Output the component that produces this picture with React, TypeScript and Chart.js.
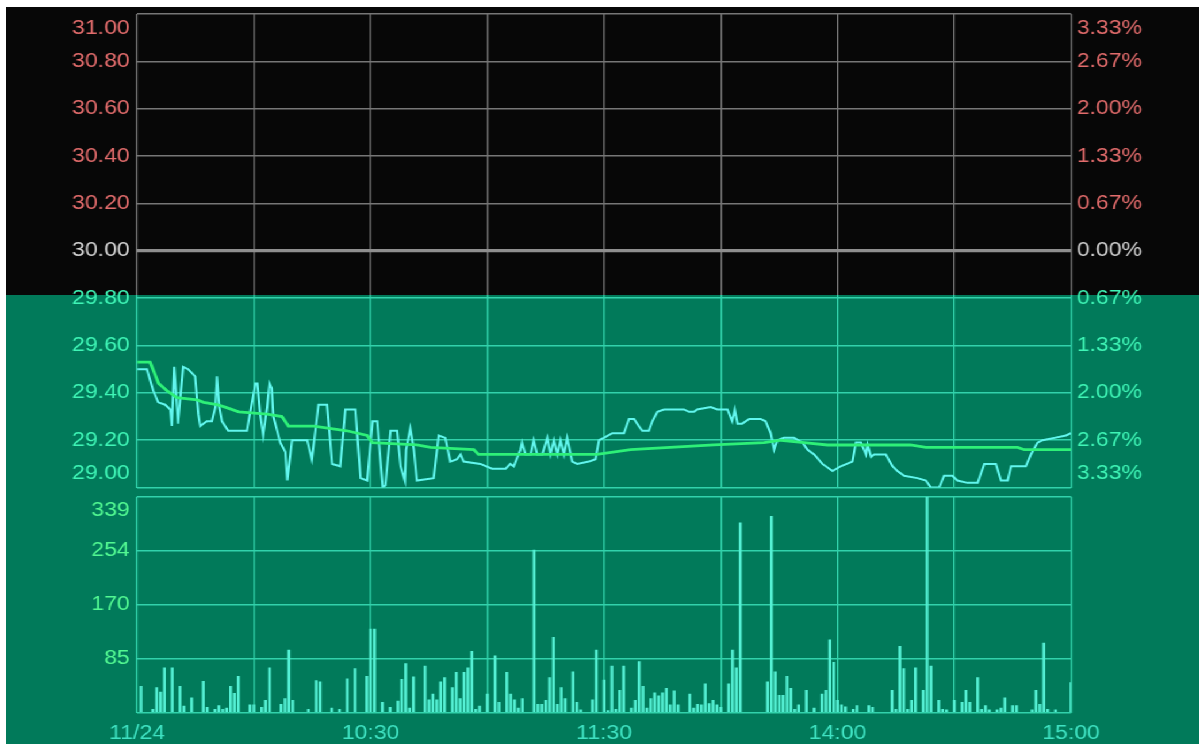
import React, { useEffect, useRef } from 'react';
import { Chart, registerables } from 'chart.js';
Chart.register(...registerables);

// ---- data (minutes since 09:30 on a 240-minute session axis) ----
const priceTimes = [0, 2.5, 4.1, 5.4, 7.2, 8.5, 8.9, 9.5, 10.5, 11.8, 13.1, 14.9, 15.7, 16.2, 17.9, 19.2, 20.1, 20.5, 21.1, 21.8, 23.4, 28.2, 29.5, 30.4, 30.9, 31.6, 32.4, 33.4, 34.0, 34.6, 35.0, 36.8, 38.1, 38.6, 39.8, 43.7, 44.9, 46.6, 48.8, 50.1, 52.2, 53.5, 56.1, 57.4, 59.1, 60.5, 61.7, 63.1, 63.8, 65.1, 66.8, 67.7, 68.8, 69.1, 70.2, 71.1, 71.9, 76.2, 77.5, 79.2, 80.5, 82.2, 83.1, 83.9, 88.2, 91.2, 94.7, 95.9, 96.8, 98.5, 98.9, 99.8, 101.1, 101.9, 102.8, 104.1, 105.4, 106.2, 107.1, 108.0, 108.8, 109.7, 110.5, 110.9, 111.8, 113.1, 116.1, 117.8, 118.7, 119.9, 122.1, 125.1, 126.4, 127.7, 128.9, 129.8, 131.5, 132.4, 133.7, 135.4, 140.5, 141.8, 143.1, 143.9, 147.4, 149.1, 151.7, 152.9, 153.6, 154.3, 155.5, 157.3, 160.2, 161.5, 162.8, 163.7, 164.5, 166.2, 168.8, 171.0, 172.3, 174.0, 176.1, 178.7, 180.8, 183.8, 184.7, 186.0, 187.3, 187.7, 188.6, 189.4, 192.4, 194.1, 195.4, 197.1, 200.5, 202.7, 204.0, 206.1, 207.4, 209.5, 210.8, 213.4, 216.0, 217.7, 220.7, 222.0, 223.7, 224.6, 228.4, 229.7, 231.4, 232.7, 235.7, 238.7, 240];
const prices = [29.50, 29.50, 29.41, 29.36, 29.35, 29.33, 29.26, 29.51, 29.27, 29.51, 29.50, 29.47, 29.31, 29.26, 29.28, 29.28, 29.34, 29.47, 29.34, 29.28, 29.24, 29.24, 29.36, 29.44, 29.44, 29.31, 29.22, 29.34, 29.44, 29.42, 29.30, 29.19, 29.15, 29.03, 29.20, 29.20, 29.12, 29.35, 29.35, 29.10, 29.09, 29.33, 29.33, 29.04, 29.03, 29.28, 29.28, 29.00, 29.01, 29.24, 29.24, 29.09, 29.03, 29.16, 29.25, 29.16, 29.03, 29.04, 29.22, 29.21, 29.11, 29.12, 29.14, 29.11, 29.10, 29.08, 29.08, 29.10, 29.09, 29.16, 29.19, 29.14, 29.14, 29.20, 29.14, 29.14, 29.21, 29.14, 29.20, 29.14, 29.20, 29.14, 29.21, 29.18, 29.11, 29.10, 29.11, 29.12, 29.20, 29.21, 29.23, 29.23, 29.29, 29.29, 29.26, 29.24, 29.24, 29.28, 29.32, 29.33, 29.33, 29.32, 29.32, 29.33, 29.34, 29.33, 29.33, 29.28, 29.33, 29.27, 29.27, 29.29, 29.29, 29.28, 29.23, 29.16, 29.20, 29.21, 29.21, 29.19, 29.16, 29.14, 29.10, 29.07, 29.09, 29.11, 29.19, 29.19, 29.14, 29.18, 29.13, 29.14, 29.14, 29.09, 29.07, 29.05, 29.04, 29.03, 29.00, 29.00, 29.05, 29.05, 29.03, 29.02, 29.02, 29.10, 29.10, 29.03, 29.03, 29.09, 29.09, 29.14, 29.19, 29.20, 29.21, 29.22, 29.23];

const avgTimes = [0, 3.3, 5.5, 7.6, 10.2, 15.4, 17.1, 20.5, 22.6, 26.1, 33.4, 37.2, 38.9, 45.4, 53.9, 59.1, 60.4, 71.9, 75.4, 86.5, 87.7, 118.2, 126.8, 148.2, 161.1, 165.5, 171.4, 177.4, 198.7, 202.7, 226.3, 228.0, 240];
const avgPrices = [29.53, 29.53, 29.44, 29.41, 29.38, 29.37, 29.36, 29.35, 29.34, 29.32, 29.31, 29.30, 29.26, 29.26, 29.24, 29.22, 29.19, 29.18, 29.17, 29.16, 29.14, 29.14, 29.16, 29.18, 29.19, 29.20, 29.19, 29.18, 29.18, 29.17, 29.17, 29.16, 29.16];

const volTimes = [1, 4, 5, 6, 7, 9, 11, 12, 14, 17, 18, 20, 21, 22, 23, 24, 25, 26, 29, 30, 32, 33, 34, 37, 38, 39, 40, 44, 46, 47, 50, 52, 54, 56, 59, 60, 61, 63, 65, 67, 68, 69, 70, 71, 74, 75, 76, 77, 78, 79, 81, 82, 83, 84, 85, 86, 87, 88, 90, 92, 93, 95, 96, 97, 98, 99, 102, 103, 104, 105, 106, 107, 108, 109, 110, 112, 113, 114, 117, 118, 120, 121, 122, 123, 124, 125, 127, 128, 129, 130, 131, 132, 133, 134, 135, 136, 137, 138, 139, 142, 143, 144, 145, 146, 147, 148, 149, 150, 152, 153, 154, 155, 162, 163, 164, 165, 166, 167, 168, 169, 170, 172, 174, 176, 177, 178, 179, 180, 181, 182, 184, 185, 188, 189, 194, 195, 196, 197, 198, 199, 200, 202, 203, 204, 206, 207, 208, 210, 212, 213, 214, 216, 217, 218, 219, 221, 222, 223, 225, 226, 230, 231, 232, 233, 234, 236, 240];
const volumes = [41, 5, 39, 32, 70, 70, 41, 10, 23, 49, 8, 5, 11, 5, 7, 41, 30, 57, 12, 12, 8, 19, 70, 13, 22, 98, 19, 5, 50, 48, 7, 5, 53, 69, 57, 131, 131, 16, 8, 18, 52, 77, 7, 56, 73, 20, 29, 20, 48, 55, 39, 63, 22, 63, 70, 96, 5, 10, 29, 89, 16, 63, 29, 20, 7, 22, 255, 13, 13, 19, 55, 118, 13, 39, 22, 64, 16, 4, 20, 98, 51, 3, 73, 5, 35, 73, 7, 19, 80, 41, 7, 22, 31, 26, 31, 38, 12, 34, 12, 29, 7, 13, 12, 45, 14, 19, 12, 8, 45, 98, 70, 298, 48, 308, 64, 27, 27, 57, 38, 5, 12, 35, 7, 29, 35, 114, 79, 19, 12, 9, 5, 11, 11, 8, 35, 5, 104, 69, 5, 19, 70, 35, 339, 73, 19, 5, 4, 19, 16, 35, 16, 55, 5, 11, 4, 4, 7, 23, 11, 11, 4, 35, 13, 109, 5, 4, 47];

const prevClose = 30.0;
const priceMin = 29.0;
const priceMax = 31.0;
const priceTicks = [29.0, 29.2, 29.4, 29.6, 29.8, 30.0, 30.2, 30.4, 30.6, 30.8, 31.0];
const volMax = 339;
const volTickValues = [0, 84.75, 169.5, 254.25, 339];
const volTickLabels = ['', '85', '170', '254', '339'];
const timeTickValues = [0, 30, 60, 90, 120, 150, 180, 210, 240];
const timeTickLabels = ['11/24', '', '10:30', '', '11:30', '', '14:00', '', '15:00'];

// ---- style ----
const S = 1.15; // horizontal stretch of the whole drawing
const W = 1199 / S;
const LEFT_W = 137 / S;
const RIGHT_W = (1199 - 1070) / S;
const SPLIT_Y = 295;
const BLACK = '#070707';
const GREEN_BG = '#017a5a';
const GRID_GRAY = '#767676';
const ZERO_GRAY = '#8e8e8e';
const GRID_GREEN = '#32d2ab';
const RED_TXT = '#e26c6c';
const GRAY_TXT = '#d2d2d2';
const GREEN_TXT = '#3ff5b6';
const VOL_TXT = '#52f892';
const TIME_TXT = '#3fe2c2';
const PRICE_LINE = '#62f6ee';
const AVG_LINE = '#2ef078';
const BAR = '#55f0d4';
const FONT = { family: '"Liberation Sans", Arial, sans-serif', size: 20, lineHeight: 1.42 };

const isZero = (v: number) => Math.abs(v - prevClose) < 1e-6;
const priceColor = (v: number) => (isZero(v) ? GRAY_TXT : v > prevClose ? RED_TXT : GREEN_TXT);
const edgeLabel = (text: string, v: number, min: number, max: number): any => {
  if (Math.abs(v - max) < 1e-6) return ['', text];
  if (Math.abs(v - min) < 1e-6) return [text, ''];
  return text;
};
const noPad = (s: any) => {
  s.paddingTop = 0;
  s.paddingBottom = 0;
  s.paddingLeft = 0;
  s.paddingRight = 0;
};

function PriceChart() {
  const ref = useRef<HTMLCanvasElement | null>(null);
  useEffect(() => {
    if (!ref.current) return;
    const chart = new Chart(ref.current, {
      type: 'line',
      data: {
        datasets: [
          {
            label: 'avg',
            data: avgTimes.map((t, i) => ({ x: t, y: avgPrices[i] })),
            borderColor: AVG_LINE,
            borderWidth: 2.8,
            pointRadius: 0,
            tension: 0,
            yAxisID: 'y',
          },
          {
            label: 'price',
            data: priceTimes.map((t, i) => ({ x: t, y: prices[i] })),
            borderColor: PRICE_LINE,
            borderWidth: 2,
            pointRadius: 0,
            tension: 0,
            yAxisID: 'y',
          },
        ],
      },
      options: {
        animation: false,
        responsive: true,
        maintainAspectRatio: false,
        layout: { padding: { top: 14, bottom: 500 - 487.6, left: 0, right: 0 } },
        plugins: { legend: { display: false }, tooltip: { enabled: false } },
        scales: {
          x: {
            type: 'linear',
            min: 0,
            max: 240,
            afterBuildTicks: (s: any) => {
              s.ticks = timeTickValues.map((v) => ({ value: v }));
            },
            afterFit: (s: any) => {
              s.height = 0;
              noPad(s);
            },
            ticks: { display: false },
            border: { display: false },
            grid: {
              drawTicks: false,
              lineWidth: 1.3,
              color: (c: any) => {
                const ch = c.chart;
                const g = ch.ctx.createLinearGradient(0, 0, 0, ch.height);
                const st = Math.min(1, SPLIT_Y / ch.height);
                g.addColorStop(0, GRID_GRAY);
                g.addColorStop(st, GRID_GRAY);
                g.addColorStop(st, GRID_GREEN);
                g.addColorStop(1, GRID_GREEN);
                return g;
              },
            },
          },
          y: {
            position: 'left',
            min: priceMin,
            max: priceMax,
            afterBuildTicks: (s: any) => {
              s.ticks = priceTicks.map((v) => ({ value: v }));
            },
            afterFit: (s: any) => {
              s.width = LEFT_W;
              noPad(s);
            },
            border: { display: false },
            grid: {
              drawTicks: false,
              color: (c: any) => (isZero(c.tick.value) ? ZERO_GRAY : c.tick.value > 29.9 ? GRID_GRAY : GRID_GREEN),
              lineWidth: (c: any) => (isZero(c.tick.value) ? 3.2 : 1.6),
            },
            ticks: {
              autoSkip: false,
              padding: 6.5,
              font: FONT,
              color: (c: any) => priceColor(c.tick.value),
              callback: (v: any) => edgeLabel(Number(v).toFixed(2), Number(v), priceMin, priceMax),
            },
          },
          y2: {
            position: 'right',
            min: priceMin,
            max: priceMax,
            afterBuildTicks: (s: any) => {
              s.ticks = priceTicks.map((v) => ({ value: v }));
            },
            afterFit: (s: any) => {
              s.width = RIGHT_W;
              noPad(s);
            },
            border: { display: false },
            grid: { display: false, drawTicks: false },
            ticks: {
              autoSkip: false,
              padding: 5,
              font: FONT,
              color: (c: any) => priceColor(c.tick.value),
              callback: (v: any) =>
                edgeLabel(
                  ((Math.abs(Number(v) - prevClose) / prevClose) * 100).toFixed(2) + '%',
                  Number(v),
                  priceMin,
                  priceMax
                ),
            },
          },
        },
      } as any,
    });
    return () => chart.destroy();
  }, []);
  return (
    <div style={{ position: 'absolute', left: 0, top: 0, width: W, height: 500 }}>
      <canvas ref={ref} />
    </div>
  );
}

function VolumeChart() {
  const ref = useRef<HTMLCanvasElement | null>(null);
  useEffect(() => {
    if (!ref.current) return;
    const chart = new Chart(ref.current, {
      type: 'bar',
      data: {
        datasets: [
          {
            label: 'volume',
            data: volTimes.map((t, i) => ({ x: t, y: volumes[i] })),
            backgroundColor: BAR,
            borderWidth: 0,
            barThickness: 1.8,
          },
        ],
      },
      options: {
        animation: false,
        responsive: true,
        maintainAspectRatio: false,
        layout: { padding: { top: 6.7, bottom: 0, left: 0, right: RIGHT_W } },
        plugins: { legend: { display: false }, tooltip: { enabled: false } },
        scales: {
          x: {
            type: 'linear',
            min: 0,
            max: 240,
            offset: false,
            afterBuildTicks: (s: any) => {
              s.ticks = timeTickValues.map((v) => ({ value: v }));
            },
            afterFit: (s: any) => {
              s.height = 31.5;
              noPad(s);
            },
            border: { display: false },
            grid: { drawTicks: false, lineWidth: 1.3, color: GRID_GREEN, offset: false },
            ticks: {
              autoSkip: false,
              maxRotation: 0,
              padding: 9,
              color: TIME_TXT,
              font: { family: FONT.family, size: 20 },
              callback: (v: any, i: number) => timeTickLabels[i],
            },
          },
          y: {
            position: 'left',
            min: 0,
            max: volMax,
            afterBuildTicks: (s: any) => {
              s.ticks = volTickValues.map((v) => ({ value: v }));
            },
            afterFit: (s: any) => {
              s.width = LEFT_W;
              noPad(s);
            },
            border: { display: false },
            grid: { drawTicks: false, color: GRID_GREEN, lineWidth: 1.6 },
            ticks: {
              autoSkip: false,
              padding: 6.5,
              font: FONT,
              color: VOL_TXT,
              callback: (v: any, i: number) => edgeLabel(volTickLabels[i], Number(v), -1, volMax),
            },
          },
        },
      } as any,
    });
    return () => chart.destroy();
  }, []);
  return (
    <div style={{ position: 'absolute', left: 0, top: 490, width: W, height: 254 }}>
      <canvas ref={ref} />
    </div>
  );
}

export default function App() {
  return (
    <div style={{ position: 'fixed', left: 0, top: 0, width: 1199, height: 744, background: '#ffffff', overflow: 'hidden' }}>
      <div style={{ position: 'absolute', left: 6, top: 7, width: 1193, height: SPLIT_Y - 7, background: BLACK }} />
      <div style={{ position: 'absolute', left: 6, top: SPLIT_Y, width: 1193, height: 744 - SPLIT_Y, background: GREEN_BG }} />
      <div
        style={{
          position: 'absolute',
          left: 0,
          top: 0,
          width: W,
          height: 744,
          transform: `scaleX(${S})`,
          transformOrigin: '0 0',
        }}
      >
        <PriceChart />
        <VolumeChart />
      </div>
    </div>
  );
}
